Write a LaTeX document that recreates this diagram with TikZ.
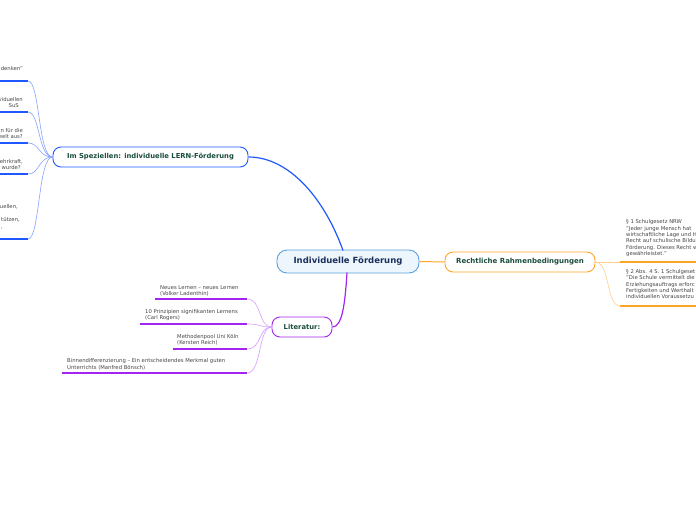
\documentclass[tikz,border=0pt]{standalone}
\usepackage{fontspec}
\setmainfont{DejaVu Sans}
\definecolor{cblue}{HTML}{2058FF}
\definecolor{cbluel}{HTML}{86A2FF}
\definecolor{cpurple}{HTML}{A326F0}
\definecolor{cpurplel}{HTML}{D39BFF}
\definecolor{corange}{HTML}{FFA526}
\definecolor{corangel}{HTML}{FFD08C}
\definecolor{ctxt}{HTML}{1B4D3E}
\definecolor{cnavy}{HTML}{1A2F5C}
\definecolor{cgray}{HTML}{444444}
\definecolor{cborder}{HTML}{5AA0DC}
\definecolor{cfill}{HTML}{EEF6FD}
\tikzset{
  topic/.style={draw, rounded corners=8pt, fill=white, line width=0.9pt, inner sep=0pt,
    text=ctxt, font=\bfseries\fontsize{6.8}{8}\selectfont},
  small/.style={inner sep=0pt, text=cgray, align=left, font=\fontsize{5.3}{6.3}\selectfont},
  frag/.style={inner sep=0pt, text=cgray, font=\fontsize{5.3}{6.3}\selectfont},
  uline/.style={line width=1.6pt},
  twig/.style={line width=0.6pt}
}
\begin{document}
\begin{tikzpicture}[x=1pt,y=-1pt]
\useasboundingbox (0,0) rectangle (696,520);
\clip (0,0) rectangle (696,520);
% main nodes
\node[topic, draw=cborder, fill=cfill, minimum width=142pt, minimum height=23pt, rounded corners=10pt,
  font=\bfseries\fontsize{8.5}{10}\selectfont, text=cnavy] (root) at (348,261.5) {Individuelle Förderung};
\node[topic, draw=cblue, minimum width=195pt, minimum height=20pt] (spez) at (150.5,157) {Im Speziellen: individuelle LERN-Förderung};
\node[topic, draw=corange, minimum width=150pt, minimum height=20pt, font=\bfseries\fontsize{7}{8}\selectfont] (rech) at (520,262) {Rechtliche Rahmenbedingungen};
\node[topic, draw=cpurple, minimum width=60pt, minimum height=20pt] (lit) at (302,327) {Literatur:};
% main connectors
\coordinate (rtop) at (343,250.5);
\coordinate (rbot) at (347,272.5);
\draw[cblue, line width=1.2pt] (rtop) .. controls (325,200) and (290,157) .. (spez.east);
\draw[cpurple, line width=1.2pt] (rbot) .. controls (345,305) and (342,327) .. (lit.east);
\draw[corange, line width=1pt] (root.east) -- (rech.west);
% left children (blue)
\coordinate (bl1) at (-5,81);  \coordinate (br1) at (28,81);
\coordinate (bl2) at (-5,112); \coordinate (br2) at (28,112);
\coordinate (bl3) at (-5,143); \coordinate (br3) at (28,143);
\coordinate (bl4) at (-5,174); \coordinate (br4) at (28,174);
\coordinate (bl5) at (-5,239); \coordinate (br5) at (28,239);
\draw[cblue, uline] (bl1) -- (br1);
\draw[cblue, uline] (bl2) -- (br2);
\draw[cblue, uline] (bl3) -- (br3);
\draw[cblue, uline] (bl4) -- (br4);
\draw[cblue, uline] (bl5) -- (br5);
\draw[cbluel, twig] (br1) .. controls (40,81) and (38,157) .. (spez.west);
\draw[cbluel, twig] (br2) .. controls (40,112) and (38,157) .. (spez.west);
\draw[cbluel, twig] (br3) .. controls (40,143) and (38,157) .. (spez.west);
\draw[cbluel, twig] (br4) .. controls (40,174) and (38,157) .. (spez.west);
\draw[cbluel, twig] (br5) .. controls (40,239) and (38,157) .. (spez.west);
\node[frag, anchor=mid east] (t1a) at (23,68) {denken"};
\node[frag, anchor=mid east] (t2a) at (23,99) {viduellen};
\node[frag, anchor=mid east] (t2b) at (19,105) {SuS};
\node[frag, anchor=mid east] (t3a) at (23,130) {n für die};
\node[frag, anchor=mid east] (t3b) at (23,136) {eelt aus?};
\node[frag, anchor=mid east] (t4a) at (23,160.5) {ehrkraft,};
\node[frag, anchor=mid east] (t4b) at (21,167) {wurde?};
\node[frag, anchor=mid east] (t5a) at (18,205.5) {uellen,};
\node[frag, anchor=mid east] (t5b) at (20,219) {tützen,};
\node[frag, anchor=mid east] (t5c) at (3,226) {,};
% literature children (purple)
\node[small, anchor=south west] (l1) at (160,296.3) {Neues Lernen – neues Lernen\\(Volker Ladenthin)};
\node[small, anchor=south west] (l2) at (145,321) {10 Prinzipien signifikanten Lernens\\(Carl Rogers)};
\node[small, anchor=south west] (l3) at (177,345.3) {Methodenpool Uni Köln\\(Kersten Reich)};
\node[small, anchor=south west] (l4) at (67,370) {Binnendifferenzierung – Ein entscheidendes Merkmal guten\\Unterrichts (Manfred Bönsch)};
\coordinate (pl1) at (155,299); \coordinate (pr1) at (247,299);
\coordinate (pl2) at (140,324); \coordinate (pr2) at (247,324);
\coordinate (pl3) at (173,349); \coordinate (pr3) at (247,349);
\coordinate (pl4) at (62,373);  \coordinate (pr4) at (247,373);
\draw[cpurple, uline] (pl1) -- (pr1);
\draw[cpurple, uline] (pl2) -- (pr2);
\draw[cpurple, uline] (pl3) -- (pr3);
\draw[cpurple, uline] (pl4) -- (pr4);
\draw[cpurplel, twig] (pr1) .. controls (262,299) and (258,327) .. (lit.west);
\draw[cpurplel, twig] (pr2) .. controls (262,324) and (258,327) .. (lit.west);
\draw[cpurplel, twig] (pr3) .. controls (262,349) and (258,327) .. (lit.west);
\draw[cpurplel, twig] (pr4) .. controls (262,373) and (258,327) .. (lit.west);
% legal children (orange)
\node[small, anchor=south west] (r1) at (626,256.7) {§ 1 Schulgesetz NRW\\"Jeder junge Mensch hat \\wirtschaftliche Lage und H\\Recht auf schulische Bildu\\Förderung. Dieses Recht w\\gewährleistet."};
\node[small, anchor=south west] (r2) at (626,299) {§ 2 Abs. 4 S. 1 Schulgeset\\"Die Schule vermittelt die\\Erziehungsauftrags erforc\\Fertigkeiten und Werthalt\\individuellen Voraussetzu};
\coordinate (ol1) at (620,262);
\coordinate (or1) at (700,262);
\coordinate (ol2) at (620,306);
\coordinate (or2) at (700,306);
\draw[corange, uline] (ol1) -- (or1);
\draw[corange, uline] (ol2) -- (or2);
\draw[corangel, twig] (rech.east) -- (ol1);
\draw[corangel, twig] (rech.east) .. controls (610,262) and (606,306) .. (ol2);
\end{tikzpicture}
\end{document}
